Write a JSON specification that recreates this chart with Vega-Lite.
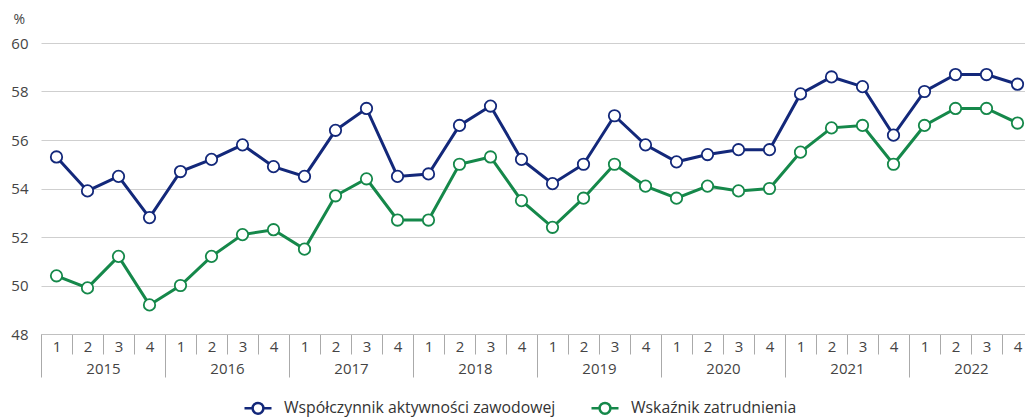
{
  "$schema": "https://vega.github.io/schema/vega-lite/v6.json",
  "width": 992,
  "height": 291,
  "padding": {"left": 10, "top": 12, "right": 0, "bottom": 0},
  "background": "white",
  "config": {
    "font": "Open Sans",
    "view": {"stroke": null},
    "axis": {"labelColor": "#444", "labelFontSize": 14.5, "titleColor": "#444"}
  },
  "data": {
    "values": [
      {"rok": "2015", "kw": "1", "okres": "2015-1", "A": 55.3, "Z": 50.4},
      {"rok": "2015", "kw": "2", "okres": "2015-2", "A": 53.9, "Z": 49.9},
      {"rok": "2015", "kw": "3", "okres": "2015-3", "A": 54.5, "Z": 51.2},
      {"rok": "2015", "kw": "4", "okres": "2015-4", "A": 52.8, "Z": 49.2},
      {"rok": "2016", "kw": "1", "okres": "2016-1", "A": 54.7, "Z": 50.0},
      {"rok": "2016", "kw": "2", "okres": "2016-2", "A": 55.2, "Z": 51.2},
      {"rok": "2016", "kw": "3", "okres": "2016-3", "A": 55.8, "Z": 52.1},
      {"rok": "2016", "kw": "4", "okres": "2016-4", "A": 54.9, "Z": 52.3},
      {"rok": "2017", "kw": "1", "okres": "2017-1", "A": 54.5, "Z": 51.5},
      {"rok": "2017", "kw": "2", "okres": "2017-2", "A": 56.4, "Z": 53.7},
      {"rok": "2017", "kw": "3", "okres": "2017-3", "A": 57.3, "Z": 54.4},
      {"rok": "2017", "kw": "4", "okres": "2017-4", "A": 54.5, "Z": 52.7},
      {"rok": "2018", "kw": "1", "okres": "2018-1", "A": 54.6, "Z": 52.7},
      {"rok": "2018", "kw": "2", "okres": "2018-2", "A": 56.6, "Z": 55.0},
      {"rok": "2018", "kw": "3", "okres": "2018-3", "A": 57.4, "Z": 55.3},
      {"rok": "2018", "kw": "4", "okres": "2018-4", "A": 55.2, "Z": 53.5},
      {"rok": "2019", "kw": "1", "okres": "2019-1", "A": 54.2, "Z": 52.4},
      {"rok": "2019", "kw": "2", "okres": "2019-2", "A": 55.0, "Z": 53.6},
      {"rok": "2019", "kw": "3", "okres": "2019-3", "A": 57.0, "Z": 55.0},
      {"rok": "2019", "kw": "4", "okres": "2019-4", "A": 55.8, "Z": 54.1},
      {"rok": "2020", "kw": "1", "okres": "2020-1", "A": 55.1, "Z": 53.6},
      {"rok": "2020", "kw": "2", "okres": "2020-2", "A": 55.4, "Z": 54.1},
      {"rok": "2020", "kw": "3", "okres": "2020-3", "A": 55.6, "Z": 53.9},
      {"rok": "2020", "kw": "4", "okres": "2020-4", "A": 55.6, "Z": 54.0},
      {"rok": "2021", "kw": "1", "okres": "2021-1", "A": 57.9, "Z": 55.5},
      {"rok": "2021", "kw": "2", "okres": "2021-2", "A": 58.6, "Z": 56.5},
      {"rok": "2021", "kw": "3", "okres": "2021-3", "A": 58.2, "Z": 56.6},
      {"rok": "2021", "kw": "4", "okres": "2021-4", "A": 56.2, "Z": 55.0},
      {"rok": "2022", "kw": "1", "okres": "2022-1", "A": 58.0, "Z": 56.6},
      {"rok": "2022", "kw": "2", "okres": "2022-2", "A": 58.7, "Z": 57.3},
      {"rok": "2022", "kw": "3", "okres": "2022-3", "A": 58.7, "Z": 57.3},
      {"rok": "2022", "kw": "4", "okres": "2022-4", "A": 58.3, "Z": 56.7}
    ]
  },
  "transform": [{"fold": ["A", "Z"], "as": ["seria", "wartosc"]}],
  "layer": [
    {
      "mark": {"type": "point", "opacity": 0},
      "encoding": {
        "x": {
          "field": "rok",
          "type": "ordinal",
          "scale": {"paddingInner": 0, "paddingOuter": 0},
          "axis": {
            "title": null,
            "orient": "bottom",
            "domain": false,
            "grid": false,
            "ticks": true,
            "tickBand": "extent",
            "tickSize": 43,
            "tickColor": "#aaaaaa",
            "tickWidth": 1,
            "labelAngle": 0,
            "labelPadding": -16,
            "labelFontSize": 15
          }
        }
      }
    },
    {
      "encoding": {
        "x": {
          "field": "okres",
          "type": "ordinal",
          "scale": {"paddingInner": 0, "paddingOuter": 0},
          "axis": {
            "title": null,
            "orient": "bottom",
            "domainColor": "#c0c0c0",
            "grid": false,
            "ticks": true,
            "tickBand": "extent",
            "tickSize": 20,
            "tickColor": "#aaaaaa",
            "tickWidth": 1,
            "labelAngle": 0,
            "labelPadding": -15,
            "labelFontSize": 15,
            "labelExpr": "split(datum.value, '-')[1]"
          }
        },
        "y": {
          "field": "wartosc",
          "type": "quantitative",
          "scale": {"domain": [48, 60], "nice": false, "zero": false},
          "axis": {
            "values": [48, 50, 52, 54, 56, 58, 60],
            "domain": false,
            "ticks": false,
            "gridColor": "#cfcfcf",
            "labelPadding": 13,
            "labelFontSize": 15,
            "title": "%",
            "titleAngle": 0,
            "titleAlign": "left",
            "titleBaseline": "middle",
            "titleFontWeight": "normal",
            "titleFontSize": 14,
            "titleX": -28,
            "titleY": -24
          }
        },
        "color": {
          "field": "seria",
          "type": "nominal",
          "scale": {"domain": ["A", "Z"], "range": ["#13287a", "#15884a"]},
          "legend": {
            "title": null,
            "orient": "none",
            "direction": "horizontal",
            "legendX": 202,
            "legendY": 350,
            "labelFontSize": 15.8,
            "labelColor": "#333",
            "labelLimit": 400,
            "labelOffset": 11,
            "columnPadding": 30,
            "symbolType": "M-1,0L-0.4,0M0.4,0L1,0M-0.4,0A0.4,0.4 0 1,0 0.4,0A0.4,0.4 0 1,0 -0.4,0Z",
            "symbolSize": 729,
            "symbolStrokeWidth": 2.5,
            "labelExpr": "datum.value == 'A' ? 'Współczynnik aktywności zawodowej' : 'Wskaźnik zatrudnienia'",
            "encode": {"symbols": {"update": {"fill": {"value": "white"}}}}
          }
        }
      },
      "layer": [
        {"mark": {"type": "line", "strokeWidth": 3}},
        {"mark": {"type": "point", "filled": false, "fill": "white", "opacity": 1, "size": 130, "strokeWidth": 1.8}}
      ]
    }
  ],
  "resolve": {"scale": {"x": "independent"}}
}
